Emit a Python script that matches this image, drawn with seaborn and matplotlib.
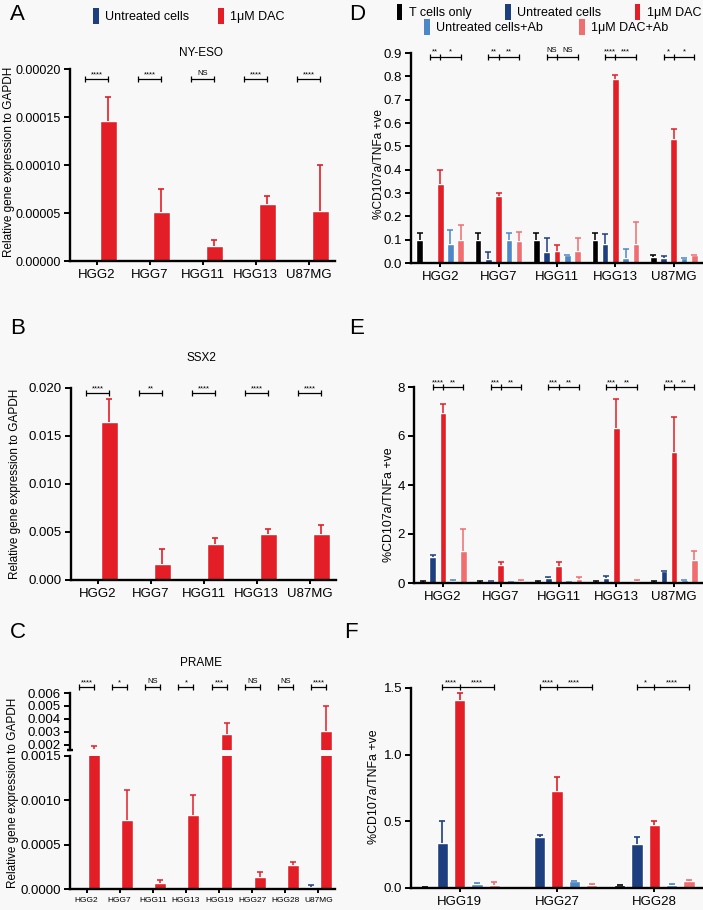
import numpy as np
import pandas as pd
import matplotlib.pyplot as plt
from matplotlib.patches import Patch
from matplotlib.ticker import FormatStrFormatter, FixedLocator
import seaborn as sns

# ---- cell lines ----
lines5 = ['HGG2', 'HGG7', 'HGG11', 'HGG13', 'U87MG']
lines8 = ['HGG2', 'HGG7', 'HGG11', 'HGG13', 'HGG19', 'HGG27', 'HGG28', 'U87MG']
lines3 = ['HGG19', 'HGG27', 'HGG28']

qpcr_groups = ['Untreated cells', '1μM DAC']
tcell_groups = ['T cells only', 'Untreated cells', '1μM DAC', 'Untreated cells+Ab', '1μM DAC+Ab']

# ---- A: NY-ESO (mean, top of error bar) ----
nyeso_untreated = [0, 0, 0, 0, 0]
nyeso_untreated_hi = [0, 0, 0, 0, 0]
nyeso_dac = [0.000146, 0.0000507, 0.0000156, 0.0000594, 0.0000524]
nyeso_dac_hi = [0.000171, 0.0000747, 0.0000215, 0.000068, 0.0001]
nyeso_sig = ['****', '****', 'NS', '****', '****']

# ---- B: SSX2 ----
ssx2_untreated = [0, 0, 0, 0, 0]
ssx2_untreated_hi = [0, 0, 0, 0, 0]
ssx2_dac = [0.01647, 0.00166, 0.00374, 0.00481, 0.00484]
ssx2_dac_hi = [0.01882, 0.00322, 0.00436, 0.00529, 0.00574]
ssx2_sig = ['****', '**', '****', '****', '****']

# ---- C: PRAME (broken axis) ----
prame_untreated = [0.000004, 0, 0, 0, 0.000004, 0, 0, 0.00002]
prame_untreated_hi = [0.000004, 0, 0, 0, 0.000004, 0, 0, 0.00004]
prame_dac = [0.00165, 0.00078, 0.000067, 0.00083, 0.0028, 0.00014, 0.00027, 0.0031]
prame_dac_hi = [0.0019, 0.00112, 0.0001, 0.00106, 0.0037, 0.00019, 0.0003, 0.005]
prame_sig = ['****', '*', 'NS', '*', '***', 'NS', 'NS', '****']

# ---- D: T cell assay, 0-0.9 ----
tonly_d = [0.10, 0.10, 0.10, 0.10, 0.027]
tonly_d_hi = [0.13, 0.13, 0.13, 0.13, 0.035]
untr_d = [0.0, 0.018, 0.048, 0.083, 0.022]
untr_d_hi = [0.0, 0.047, 0.107, 0.124, 0.028]
dac_d = [0.34, 0.286, 0.053, 0.787, 0.53]
dac_d_hi = [0.397, 0.302, 0.077, 0.807, 0.574]
untrab_d = [0.082, 0.10, 0.036, 0.02, 0.02]
untrab_d_hi = [0.142, 0.13, 0.036, 0.06, 0.02]
dacab_d = [0.098, 0.094, 0.05, 0.083, 0.034]
dacab_d_hi = [0.165, 0.135, 0.107, 0.175, 0.036]
sig_d = [('**', '*'), ('**', '**'), ('NS', 'NS'), ('****', '***'), ('*', '*')]

# ---- E: T cell assay, 0-8 ----
tonly_e = [0.05, 0.05, 0.05, 0.05, 0.05]
tonly_e_hi = [0.07, 0.07, 0.07, 0.07, 0.07]
untr_e = [1.05, 0.08, 0.2, 0.2, 0.48]
untr_e_hi = [1.15, 0.1, 0.23, 0.27, 0.5]
dac_e = [6.92, 0.75, 0.7, 6.31, 5.36]
dac_e_hi = [7.29, 0.85, 0.85, 7.53, 6.78]
untrab_e = [0.1, 0.04, 0.04, 0.0, 0.12]
untrab_e_hi = [0.12, 0.05, 0.05, 0.01, 0.14]
dacab_e = [1.3, 0.1, 0.15, 0.1, 0.95]
dacab_e_hi = [2.2, 0.12, 0.25, 0.12, 1.3]
sig_e = [('****', '**'), ('***', '**'), ('***', '**'), ('***', '**'), ('***', '**')]

# ---- F: T cell assay, other lines ----
tonly_f = [0.005, 0.003, 0.02]
tonly_f_hi = [0.005, 0.003, 0.025]
untr_f = [0.34, 0.38, 0.33]
untr_f_hi = [0.50, 0.40, 0.385]
dac_f = [1.41, 0.73, 0.475]
dac_f_hi = [1.46, 0.83, 0.505]
untrab_f = [0.03, 0.05, 0.025]
untrab_f_hi = [0.035, 0.055, 0.03]
dacab_f = [0.02, 0.025, 0.055]
dacab_f_hi = [0.045, 0.03, 0.06]
sig_f = [('****', '****'), ('****', '****'), ('*', '****')]

BG = '#f8f8f8'
BLACK = '#000000'
DBLUE = '#1e3f7f'
RED = '#e41e26'
LBLUE = '#4c87c8'
SALMON = '#f06d70'
qpcr_colors = [DBLUE, RED]
tcell_colors = [BLACK, DBLUE, RED, LBLUE, SALMON]

sns.set_theme(style='ticks', rc={'axes.edgecolor': 'black', 'xtick.color': 'black',
                                 'ytick.color': 'black', 'text.color': 'black',
                                 'axes.labelcolor': 'black'})
plt.rcParams['font.family'] = ['Liberation Sans', 'DejaVu Sans']


def long_table(cats, groups, values):
    return pd.DataFrame({'line': cats * len(groups),
                         'group': np.repeat(groups, len(cats)),
                         'value': np.concatenate(values)})


def draw_bars(ax, cats, groups, values, highs, colors, width, gap, lw=1.2, cap=2.5):
    df = long_table(cats, groups, values)
    sns.barplot(data=df, x='line', y='value', hue='group', order=cats, hue_order=groups,
                palette=colors, width=width, gap=gap, errorbar=None, saturation=1,
                legend=False, ax=ax)
    bar_sets = list(ax.containers)
    centers = []
    for gi, cont in enumerate(bar_sets):
        xs = []
        for bar, hi in zip(cont, highs[gi]):
            x = bar.get_x() + bar.get_width() / 2
            h = bar.get_height()
            xs.append(x)
            if hi > 0:
                eb = ax.errorbar(x, h, yerr=[[0], [max(hi - h, 0)]], fmt='none',
                                 ecolor=colors[gi], elinewidth=lw, capsize=cap,
                                 capthick=lw, clip_on=False)
                # upper whisker only: hide the cap sitting on the bar top
                eb[1][0].set_visible(False)
        centers.append(xs)
    # errorbar() re-runs autoscaling, so pin the categorical limits again
    ax.set_xlim(-0.5, len(cats) - 0.5)
    return centers


def style_axis(ax, fsx=9.5, fsy=9.5):
    sns.despine(ax=ax)
    ax.set_facecolor(BG)
    for s in ['left', 'bottom']:
        ax.spines[s].set_linewidth(1.7)
    ax.tick_params(axis='y', direction='out', width=1.4, length=4.5, labelsize=fsy, pad=2)
    ax.tick_params(axis='x', direction='out', width=1.4, length=3, labelsize=fsx, pad=3)
    ax.set_xlabel('')
    ax.set_ylabel('')


def bracket(ax, xs, y, labels, fs=5.5):
    ax.plot(xs, [y] * len(xs), color='black', lw=0.9, marker='|', ms=4, mew=0.9, clip_on=False)
    for x0, x1, lab in zip(xs[:-1], xs[1:], labels):
        off = 1.5 if lab == 'NS' else 0.5
        ax.annotate(lab, ((x0 + x1) / 2, y), xytext=(0, off), textcoords='offset points',
                    ha='center', va='bottom', fontsize=fs, annotation_clip=False)


W, H = 703, 910
fig = plt.figure(figsize=(W / 100, H / 100), dpi=100, facecolor=BG)


def box(left, top, right, bottom):
    return [left / W, 1 - bottom / H, (right - left) / W, (bottom - top) / H]


def ylabel_at(x, y, text, fs):
    fig.text(x / W, 1 - y / H, text, rotation=90, ha='center', va='center', fontsize=fs)


# ---------- A ----------
ax_a = fig.add_axes(box(70, 69, 335, 261))
cen = draw_bars(ax_a, lines5, qpcr_groups, [nyeso_untreated, nyeso_dac],
                [nyeso_untreated_hi, nyeso_dac_hi], qpcr_colors, 0.9, 0.28)
ax_a.set_ylim(0, 0.0002)
ax_a.yaxis.set_major_locator(FixedLocator([0, 0.00005, 0.0001, 0.00015, 0.0002]))
ax_a.yaxis.set_major_formatter(FormatStrFormatter('%.5f'))
style_axis(ax_a, fsy=9)
for i, lab in enumerate(nyeso_sig):
    bracket(ax_a, [cen[0][i], cen[1][i]], 0.00019, [lab])
ylabel_at(9, 162, 'Relative gene expression to GAPDH', 8.5)

# ---------- B ----------
ax_b = fig.add_axes(box(71, 388, 336, 580))
cen = draw_bars(ax_b, lines5, qpcr_groups, [ssx2_untreated, ssx2_dac],
                [ssx2_untreated_hi, ssx2_dac_hi], qpcr_colors, 0.9, 0.28)
ax_b.set_ylim(0, 0.02)
ax_b.yaxis.set_major_locator(FixedLocator([0, 0.005, 0.01, 0.015, 0.02]))
ax_b.yaxis.set_major_formatter(FormatStrFormatter('%.3f'))
style_axis(ax_b)
for i, lab in enumerate(ssx2_sig):
    bracket(ax_b, [cen[0][i], cen[1][i]], 0.0195, [lab])
ylabel_at(15, 484, 'Relative gene expression to GAPDH', 8.5)

# ---------- C (broken axis) ----------
ax_ct = fig.add_axes(box(70, 693, 335, 750))
ax_cb = fig.add_axes(box(70, 756, 335, 889))
draw_bars(ax_ct, lines8, qpcr_groups, [prame_untreated, prame_dac],
          [prame_untreated_hi, prame_dac_hi], qpcr_colors, 0.9, 0.2, lw=1.1, cap=2.2)
cen = draw_bars(ax_cb, lines8, qpcr_groups, [prame_untreated, prame_dac],
                [prame_untreated_hi, prame_dac_hi], qpcr_colors, 0.9, 0.2, lw=1.1, cap=2.2)
for a in (ax_ct, ax_cb):
    for coll in a.collections + a.lines:
        coll.set_clip_on(True)
ax_ct.set_ylim(0.0016, 0.006)
ax_cb.set_ylim(0, 0.0015)
ax_ct.yaxis.set_major_locator(FixedLocator([0.002, 0.003, 0.004, 0.005, 0.006]))
ax_ct.yaxis.set_major_formatter(FormatStrFormatter('%.3f'))
ax_cb.yaxis.set_major_locator(FixedLocator([0, 0.0005, 0.001, 0.0015]))
ax_cb.yaxis.set_major_formatter(FormatStrFormatter('%.4f'))
style_axis(ax_ct)
style_axis(ax_cb, fsx=6)
ax_ct.spines['bottom'].set_visible(False)
ax_ct.tick_params(axis='x', bottom=False, labelbottom=False)
ax_ct.plot(0, 0, transform=ax_ct.transAxes, marker='_', ms=5, mew=1.7, color='black', clip_on=False)
for i, lab in enumerate(prame_sig):
    bracket(ax_ct, [cen[0][i], cen[1][i]], 0.00646, [lab], fs=5.5)
ylabel_at(13, 793, 'Relative gene expression to GAPDH', 8.5)

# ---------- D ----------
ax_d = fig.add_axes(box(411, 53, 703, 263))
cen = draw_bars(ax_d, lines5, tcell_groups,
                [tonly_d, untr_d, dac_d, untrab_d, dacab_d],
                [tonly_d_hi, untr_d_hi, dac_d_hi, untrab_d_hi, dacab_d_hi],
                tcell_colors, 0.88, 0.35, lw=1.1, cap=2)
ax_d.set_ylim(0, 0.9)
ax_d.yaxis.set_major_locator(FixedLocator(np.arange(0, 0.95, 0.1)))
ax_d.yaxis.set_major_formatter(FormatStrFormatter('%.1f'))
style_axis(ax_d)
for i, labs in enumerate(sig_d):
    bracket(ax_d, [cen[1][i], cen[2][i], cen[4][i]], 0.885, list(labs))
ylabel_at(379, 164, '%CD107a/TNFa +ve', 8.6)

# ---------- E ----------
ax_e = fig.add_axes(box(414, 387, 703, 583))
cen = draw_bars(ax_e, lines5, tcell_groups,
                [tonly_e, untr_e, dac_e, untrab_e, dacab_e],
                [tonly_e_hi, untr_e_hi, dac_e_hi, untrab_e_hi, dacab_e_hi],
                tcell_colors, 0.88, 0.35, lw=1.1, cap=2)
ax_e.set_ylim(0, 8)
ax_e.yaxis.set_major_locator(FixedLocator([0, 2, 4, 6, 8]))
style_axis(ax_e)
for i, labs in enumerate(sig_e):
    bracket(ax_e, [cen[1][i], cen[2][i], cen[4][i]], 8.0, list(labs))
ylabel_at(389, 505, '%CD107a/TNFa +ve', 8.9)

# ---------- F ----------
ax_f = fig.add_axes(box(411, 688, 703, 888))
cen = draw_bars(ax_f, lines3, tcell_groups,
                [tonly_f, untr_f, dac_f, untrab_f, dacab_f],
                [tonly_f_hi, untr_f_hi, dac_f_hi, untrab_f_hi, dacab_f_hi],
                tcell_colors, 0.89, 0.36, lw=1.2, cap=2.5)
ax_f.set_ylim(0, 1.5)
ax_f.yaxis.set_major_locator(FixedLocator([0, 0.5, 1.0, 1.5]))
ax_f.yaxis.set_major_formatter(FormatStrFormatter('%.1f'))
style_axis(ax_f)
for i, labs in enumerate(sig_f):
    bracket(ax_f, [cen[1][i], cen[2][i], cen[4][i]], 1.51, list(labs))
ylabel_at(374, 787, '%CD107a/TNFa +ve', 8.9)

# ---------- titles, panel letters, legends ----------
for txt, y in [('NY-ESO', 53), ('SSX2', 358), ('PRAME', 663)]:
    fig.text(201 / W, 1 - y / H, txt, ha='center', va='center', fontsize=8.5)
for lab, x, y in [('A', 10, 15), ('B', 10, 328), ('C', 10, 632),
                  ('D', 349, 15), ('E', 349, 328), ('F', 344, 632)]:
    fig.text(x / W, 1 - y / H, lab, ha='left', va='center', fontsize=16)

leg_kw = dict(frameon=False, handlelength=0.45, handleheight=1.5, handletextpad=0.5,
              fontsize=9, borderpad=0, borderaxespad=0, loc='center')
qh = [Patch(facecolor=c, edgecolor='none') for c in qpcr_colors]
fig.legend(qh, qpcr_groups, ncol=2, columnspacing=2.3,
           bbox_to_anchor=(189 / W, 1 - 16 / H), **leg_kw)
th = [Patch(facecolor=c, edgecolor='none') for c in tcell_colors]
fig.legend(th[:3], tcell_groups[:3], ncol=3, columnspacing=2.7,
           bbox_to_anchor=(549 / W, 1 - 12 / H), **leg_kw)
fig.legend(th[3:], tcell_groups[3:], ncol=2, columnspacing=2.9,
           bbox_to_anchor=(546 / W, 1 - 27 / H), **leg_kw)

fig.savefig('out.png', dpi=100, facecolor=BG)
